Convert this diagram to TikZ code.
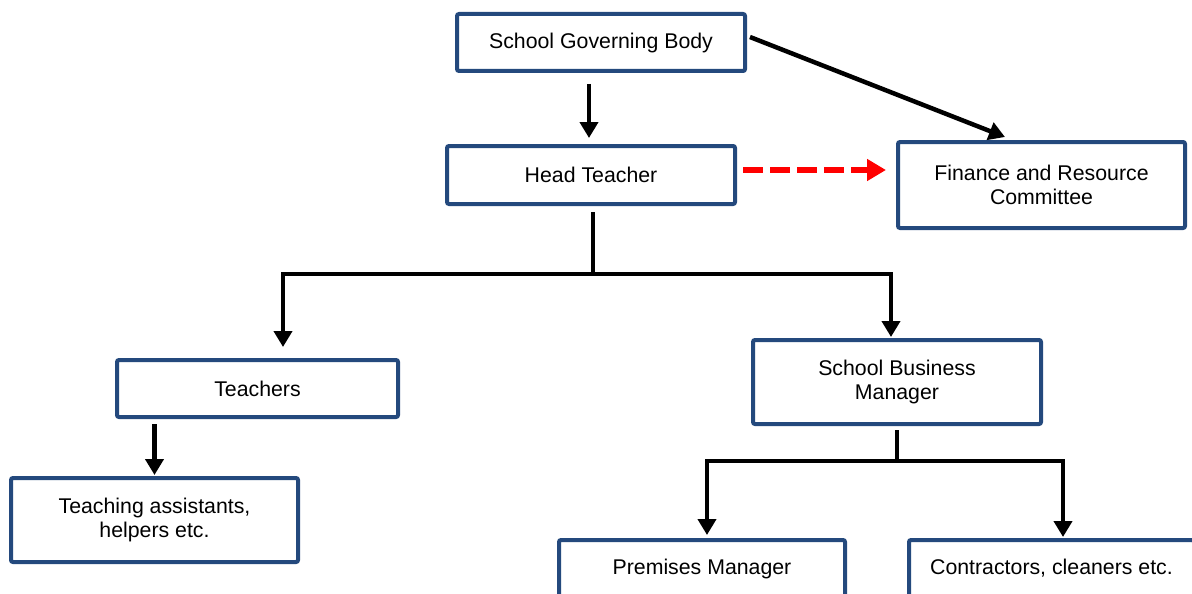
\documentclass[tikz,border=0pt]{standalone}
\usepackage{fontspec}
\setmainfont{Liberation Sans}
\usetikzlibrary{arrows.meta,calc}
\definecolor{boxblue}{RGB}{36,73,125}
\definecolor{dashred}{RGB}{255,0,0}
\begin{document}
\begin{tikzpicture}[x=1pt,y=-1pt,
  orgbox/.style={rectangle,draw=boxblue,line width=4pt,rounded corners=2pt,
    inner sep=0pt,align=center,fill=white,
    font=\fontsize{21.3}{24.3}\selectfont},
  conn/.style={line width=4.5pt,draw=black},
  arr/.style={conn,-{Triangle[width=18pt,length=16pt]}},
  redarr/.style={line width=6pt,draw=dashred,dash pattern=on 20pt off 7pt,
    -{Triangle[width=21pt,length=19pt]}}]
\useasboundingbox (0,0) rectangle (1192,594);

\node[orgbox,minimum width=288pt,minimum height=57pt] (SGB) at (601,42.5) {School Governing Body};
\node[orgbox,minimum width=288pt,minimum height=58pt] (HT) at (591,175) {Head Teacher};
\node[orgbox,minimum width=287pt,minimum height=86pt] (FRC) at (1041.5,185) {Finance and Resource\\Committee};
\node[orgbox,minimum width=281pt,minimum height=57pt] (T) at (257.5,388.5) {Teachers};
\node[orgbox,minimum width=287pt,minimum height=84pt] (TA) at (154.5,520) {Teaching assistants,\\helpers etc.};
\node[orgbox,minimum width=288pt,minimum height=84pt] (SBM) at (897,382) {School Business\\Manager};
\node[orgbox,minimum width=286pt,minimum height=57pt] (PM) at (702,568.5) {Premises Manager};
\node[orgbox,minimum width=285pt,minimum height=57pt] (CC) at (1051.5,568.5) {Contractors, cleaners etc.};

\coordinate (j1) at (593,274);
\coordinate (j2) at (897,461);

% Governing body connections
\draw[arr] ($(SGB.south)+(-12,11)$) -- ($(HT.north)+(-2,-6)$);
\draw[arr] ($(SGB.east)+(3,-5.5)$) -- ($(FRC.north)+(-36.5,-3)$);
% Head teacher to committee
\draw[redarr] ($(HT.east)+(6,-5)$) -- ($(FRC.west)+(-10,-15)$);
% Head teacher tree
\draw[conn] ($(HT.south -| j1)+(0,6)$) -- (j1);
\draw[arr] (j1) -| ($(T.north)+(25.5,-11)$);
\draw[arr] (j1) -| ($(SBM.north)+(-6,-1)$);
% Teachers to assistants
\draw[arr] ($(T.south -| TA.north)+(0,5)$) -- ($(TA.north)+(0,-1)$);
% Business manager tree
\draw[conn] ($(SBM.south)+(0,4)$) -- (j2);
\draw[arr] (j2) -| ($(PM.north)+(5,-3)$);
\draw[arr] (j2) -| ($(CC.north)+(11.5,-1)$);
\end{tikzpicture}
\end{document}
